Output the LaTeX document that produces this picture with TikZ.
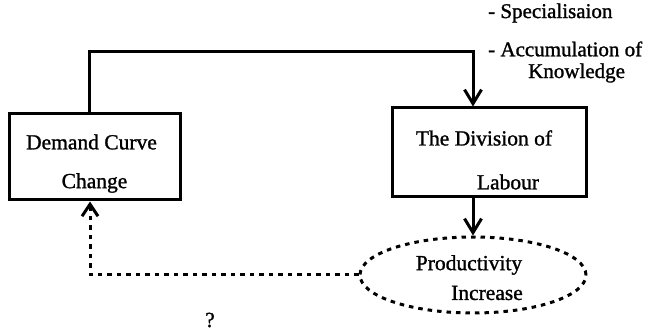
\documentclass[tikz,border=0pt]{standalone}
\usepackage{fontspec}
\setmainfont{Liberation Serif}[RawFeature={embolden=1.2}]
\usetikzlibrary{arrows.meta,shapes.geometric}

\tikzset{
  box/.style={draw, line width=3pt, inner sep=0pt},
  lbl/.style={inner sep=0pt, font=\fontsize{21.5}{24}\selectfont},
  note/.style={inner sep=0pt, anchor=west, font=\fontsize{21}{24}\selectfont},
  solidarrow/.style={line width=3pt, -{Straight Barb[length=14pt,width=17pt,line width=3pt]}},
  dotline/.style={line width=3pt, dash pattern=on 4.5pt off 5pt},
  dotarrow/.style={dotline, -{Straight Barb[length=12pt,width=16pt,line width=3pt]}},
}

\begin{document}
\begin{tikzpicture}[x=1pt, y=-1pt]
  \useasboundingbox (0,0) rectangle (651,331);

  % boxes
  \node[box, minimum width=171pt, minimum height=86pt] (lbox) at (94.5,157) {};
  \node[box, minimum width=194pt, minimum height=89pt] (rbox) at (489,152.5) {};
  \node[ellipse, dotline, draw, minimum width=226pt, minimum height=76pt, inner sep=0pt] (prod) at (473,275) {};

  % box texts
  \node[lbl] (dc1) at (91.5,142) {Demand Curve};
  \node[lbl] (dc2) at (94.5,183) {Change};
  \node[lbl] (dl1) at (484,138) {The Division of};
  \node[lbl] (dl2) at (508,182) {Labour};
  \node[lbl] (pi1) at (469,265) {Productivity};
  \node[lbl] (pi2) at (487,293) {Increase};

  % notes on the division of labour
  \node[note] (n1) at (488,13) {- Specialisaion};
  \node[note] (n2) at (488,49) {- Accumulation of};
  \node[note] (n3) at (528,73) {Knowledge};
  \node[lbl] (q) at (210,320) {?};

  % connectors
  \coordinate (t1) at (89,52);
  \coordinate (t2) at (473,52);
  \draw[solidarrow] (lbox.north -| t1) -- (t1) -- (t2) -- (t2 |- rbox.north);
  \draw[solidarrow] (rbox.south -| prod.north) -- (prod.north);
  \coordinate (d1) at (90,277);
  \draw[dotarrow] (prod.west) -- (prod.west -| d1) -- (d1 |- lbox.south);
\end{tikzpicture}
\end{document}
